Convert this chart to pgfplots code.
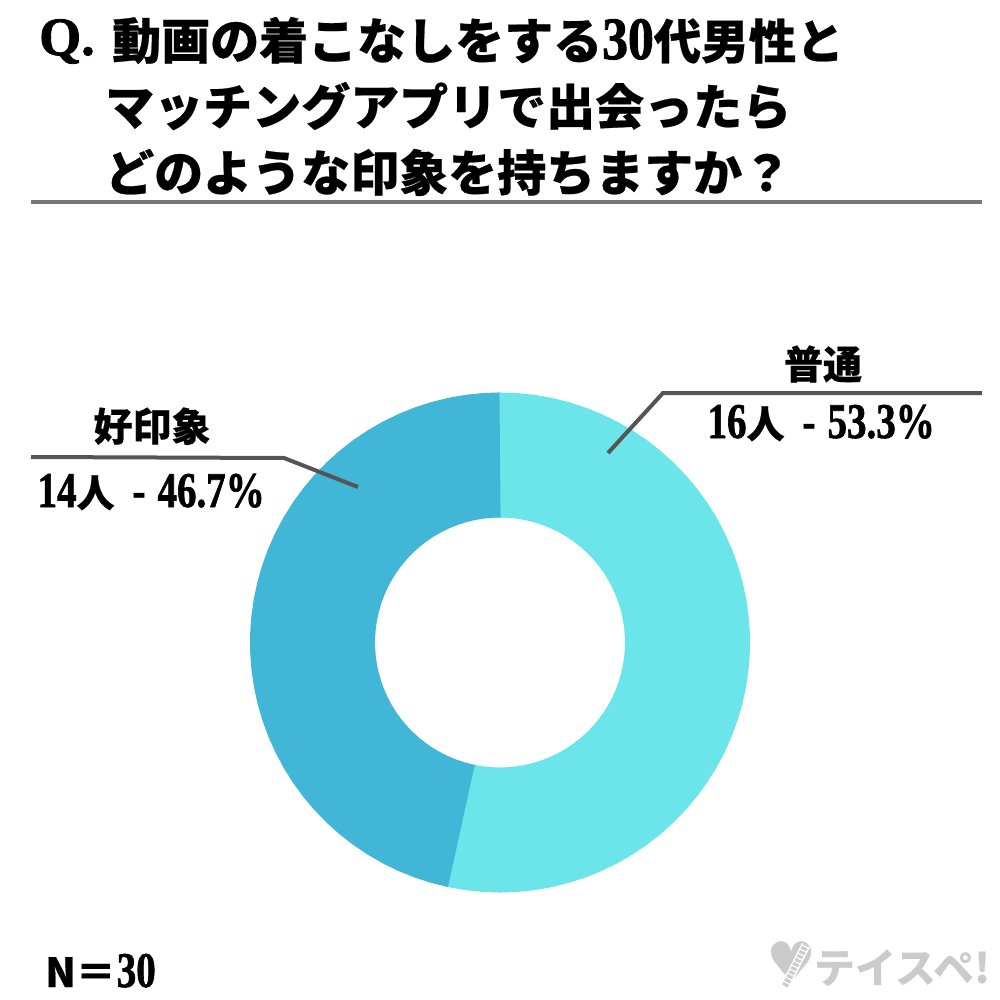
\documentclass[border=0pt]{standalone}
\usepackage{fontspec}
\usepackage{pgfplots}
\pgfplotsset{compat=1.18}
\usepgfplotslibrary{polar}
\setmainfont{Liberation Serif}
\newfontfamily\jp[FakeBold=0.5]{Noto Sans CJK JP Black}
\newfontfamily\digits[FakeStretch=0.78,FakeBold=1.2]{Liberation Serif Bold}
\newfontfamily\titledigits[FakeStretch=0.86,FakeBold=1.5]{Liberation Serif Bold}
\newfontfamily\latinb[FakeBold=1.5]{Liberation Serif Bold}
\newfontfamily\markfont{Noto Sans CJK JP Black}
\newfontfamily\sym{DejaVu Sans}
\newcommand{\fs}[1]{\fontsize{#1}{#1}\selectfont}
\definecolor{cyanpale}{HTML}{6BE5E9}
\definecolor{bluedeep}{HTML}{41B6D6}
\definecolor{leader}{HTML}{555555}
\definecolor{rule}{HTML}{777777}
\definecolor{mark}{HTML}{CBCBCB}

\begin{document}
\begin{tikzpicture}[x=1pt,y=1pt]
\path[use as bounding box] (0,0) rectangle (1000,1000);

% ring: 16 of 30 (191.9 deg) and 14 of 30 (168.1 deg), clockwise from the top
% the pale slice runs a little under the dark one so no seam shows
\begin{polaraxis}[
    at={(500pt,357.5pt)}, anchor=center,
    scale only axis, width=500pt, height=500pt,
    hide axis, clip=false,
    xmin=0, xmax=360, ymin=0, ymax=250,
]
\addplot[no markers, draw=cyanpale, line width=125pt] coordinates {
(91,187.5) (90,187.5) (86,187.5) (82,187.5) (78,187.5) (74,187.5) (70,187.5) (66,187.5) (62,187.5)
(58,187.5) (54,187.5) (50,187.5) (46,187.5) (42,187.5) (38,187.5) (34,187.5) (30,187.5)
(26,187.5) (22,187.5) (18,187.5) (14,187.5) (10,187.5) (6,187.5) (2,187.5) (-2,187.5)
(-6,187.5) (-10,187.5) (-14,187.5) (-18,187.5) (-22,187.5) (-26,187.5) (-30,187.5) (-34,187.5)
(-38,187.5) (-42,187.5) (-46,187.5) (-50,187.5) (-54,187.5) (-58,187.5) (-62,187.5) (-66,187.5)
(-70,187.5) (-74,187.5) (-78,187.5) (-82,187.5) (-86,187.5) (-90,187.5) (-94,187.5) (-98,187.5)
(-101.9,187.5) (-102.9,187.5)
};
\addplot[no markers, draw=bluedeep, line width=125pt] coordinates {
(90,187.5) (90.5,187.5) (94,187.5) (98,187.5) (102,187.5) (106,187.5) (110,187.5) (114,187.5) (118,187.5)
(122,187.5) (126,187.5) (130,187.5) (134,187.5) (138,187.5) (142,187.5) (146,187.5) (150,187.5)
(154,187.5) (158,187.5) (162,187.5) (166,187.5) (170,187.5) (174,187.5) (178,187.5) (182,187.5)
(186,187.5) (190,187.5) (194,187.5) (198,187.5) (202,187.5) (206,187.5) (210,187.5) (214,187.5)
(218,187.5) (222,187.5) (226,187.5) (230,187.5) (234,187.5) (238,187.5) (242,187.5) (246,187.5)
(250,187.5) (254,187.5) (257.6,187.5) (258.1,187.5)
};
\end{polaraxis}

% page-sized axis in image pixels for rules and text
\begin{axis}[
    at={(0pt,0pt)}, anchor=south west,
    scale only axis, width=1000pt, height=1000pt,
    hide axis, clip=false,
    xmin=0, xmax=1000, ymin=0, ymax=1000, y dir=reverse,
]
\addplot[no markers, draw=rule, line width=4pt] coordinates {(31,202) (982,202)};
\addplot[no markers, draw=leader, line width=4pt] coordinates {(31,457) (284,458) (358,487)};
\addplot[no markers, draw=leader, line width=4pt] coordinates {(608,453) (663,393) (982,393)};

\node[anchor=base west, inner sep=0pt] at (axis cs:39,55) {\latinb\fs{54}Q.};
\node[anchor=base west, inner sep=0pt] at (axis cs:112,59) {\jp\fs{49}動画の着こなしをする\titledigits\fs{60}30\jp\fs{47.5}代男性と};
\node[anchor=base west, inner sep=0pt] at (axis cs:105,125) {\jp\fs{49}マッチングアプリで出会ったら};
\node[anchor=base west, inner sep=0pt] at (axis cs:105,191) {\jp\fs{49}どのような印象を持ちますか？};

\node[anchor=base, inner sep=0pt] at (axis cs:823,379) {\jp\fs{39}普通};
\node[anchor=base east, inner sep=0pt] at (axis cs:935,438) {\digits\fs{50}16\jp\fs{38}人\hspace{18pt}\digits\fs{50}-\hspace{12pt}53.3\%};
\node[anchor=base, inner sep=0pt] at (axis cs:152,441) {\jp\fs{39}好印象};
\node[anchor=base east, inner sep=0pt] at (axis cs:265,507) {\digits\fs{50}14\jp\fs{38}人\hspace{18pt}\digits\fs{50}-\hspace{12pt}46.7\%};

\node[anchor=base west, inner sep=0pt] at (axis cs:45,987) {\jp\fs{40}N＝\hspace{1pt}\digits\fs{50}30};

\node[anchor=base, inner sep=0pt, text=mark] at (axis cs:792,982) {\sym\fs{56}♥};
\addplot[no markers, draw=white, line width=9pt] coordinates {(785,986) (806,945)};
\addplot[no markers, draw=mark, line width=6pt, dash pattern=on 3pt off 1.5pt] coordinates {(785,986) (806,945)};
\node[anchor=base west, inner sep=0pt, text=mark] at (axis cs:814,983) {\markfont\fs{41}テイスペ!};
\end{axis}
\end{tikzpicture}
\end{document}
